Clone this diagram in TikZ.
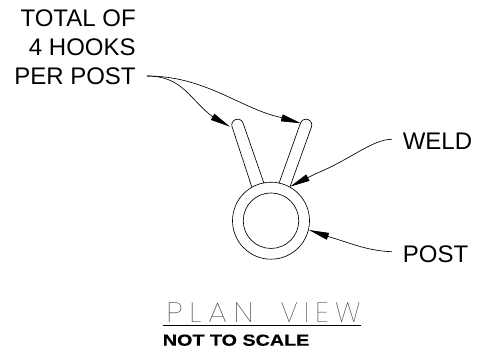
\documentclass[tikz,border=0pt]{standalone}
\usepackage{fontspec}
\usetikzlibrary{arrows.meta}
\setmainfont{Liberation Sans}
\newfontfamily\thinfont[LetterSpace=22]{Poppins Thin}
\newfontfamily\widefont[FakeBold=0.5,FakeStretch=1.233]{Liberation Sans Bold}
\begin{document}
\begin{tikzpicture}[x=1pt,y=-1pt,line width=0.65pt,
  lbl/.style={inner sep=0pt,font=\fontsize{24}{29}\selectfont,text=black},
  leader/.style={-{Triangle[length=20pt,width=7pt]},line width=0.65pt},
  hook/.style={draw,line width=0.65pt,line join=round}]
\useasboundingbox (0,0) rectangle (481,354);
\fill[white] (0,0) rectangle (481,354);
% post
\node[circle,draw,minimum size=77pt,inner sep=0pt,line width=0.65pt] (outer) at (271,220.7) {};
\node[circle,draw,minimum size=55.5pt,inner sep=0pt,line width=0.65pt] (inner) at (271,220.7) {};
% hooks
\draw[hook] (251.7,186.7) -- (232.1,126.9) arc[start angle=160.7,end angle=340.7,radius=5.8] -- (264,183.3);
\draw[hook] (279,183.3) -- (300.55,123) arc[start angle=200,end angle=380,radius=5.8] -- (290,186.7);
% labels
\node[lbl,align=right,anchor=north east] (total) at (136,9.5) {TOTAL OF\\4 HOOKS\\PER POST};
\node[lbl,anchor=base west] (weld) at (402.5,149.3) {WELD};
\node[lbl,anchor=base west] (post) at (402.5,262.7) {POST};
\coordinate (start) at (147,76);
\coordinate (tipl) at (230,126.7);
\coordinate (tipr) at (301,123.3);
\coordinate (tipw) at (290,186.7);
\coordinate (tipp) at (309,230);
\coordinate (endw) at (392,139.3);
\coordinate (endp) at (392,251.7);
% leaders
\draw[leader] (start) .. controls (183,76) and (190,100) .. (213,117) -- (tipl);
\draw[leader] (start) .. controls (205,76) and (240,108) .. (279,117) -- (tipr);
\draw[leader] (endw) .. controls (372,139.3) and (350,160) .. (315,174) -- (tipw);
\draw[leader] (endp) .. controls (368,251) and (350,243) .. (329,236.7) -- (tipp);
% title
\node[inner sep=0pt,anchor=base west,text=black!80] (plan) at (166,322.3) {\thinfont\fontsize{28}{30}\selectfont\scalebox{1.1}[1]{PLAN}\hspace{27pt}VIEW};
\coordinate (ula) at (163,325.7);
\coordinate (ulb) at (361,325.7);
\draw[line width=0.8pt] (ula) -- (ulb);
\node[inner sep=0pt,anchor=base west] (scale) at (162.5,345.7) {\widefont\fontsize{16}{18}\selectfont NOT TO SCALE};
\end{tikzpicture}
\end{document}
